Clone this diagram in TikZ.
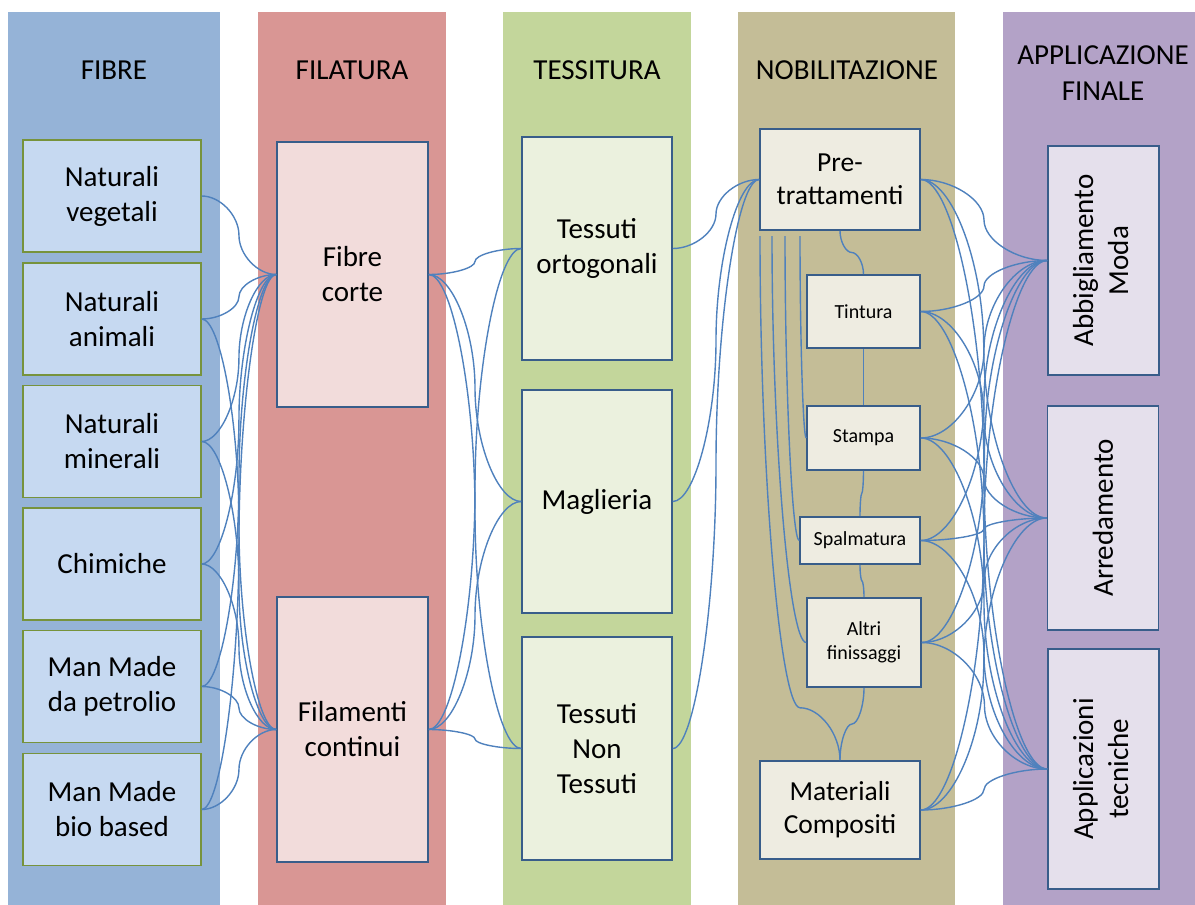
\documentclass[tikz,border=0pt]{standalone}
\usepackage{fontspec}
\usepackage{graphicx}
\setmainfont{Carlito}
\usetikzlibrary{calc}
\definecolor{fibreband}{HTML}{95B3D7}
\definecolor{filband}{HTML}{D99694}
\definecolor{tessband}{HTML}{C3D69B}
\definecolor{nobband}{HTML}{C4BD97}
\definecolor{appband}{HTML}{B3A2C7}
\definecolor{fibrefill}{HTML}{C6D9F1}
\definecolor{fibreline}{HTML}{77933C}
\definecolor{filfill}{HTML}{F2DCDB}
\definecolor{tessfill}{HTML}{EBF1DE}
\definecolor{nobfill}{HTML}{EEECE1}
\definecolor{appfill}{HTML}{E5E0EC}
\definecolor{boxline}{HTML}{385D8A}
\definecolor{linkblue}{HTML}{4F81BD}
\tikzset{head/.style = {align=center, font=\fontsize{29}{36}\selectfont}}
\tikzset{box/.style = {draw=boxline, line width=1.6pt, inner sep=0pt, align=center, font=\fontsize{29}{35}\selectfont}}
\tikzset{fibrebox/.style = {box, draw=fibreline, line width=1.4pt, fill=fibrefill, minimum width=178pt, minimum height=112pt}}
\tikzset{filbox/.style = {box, fill=filfill, minimum width=151pt, minimum height=265pt}}
\tikzset{tessbox/.style = {box, fill=tessfill, minimum width=150pt, minimum height=223pt}}
\tikzset{nobbox/.style = {box, fill=nobfill, font=\fontsize{20}{24}\selectfont}}
\tikzset{appbox/.style = {box, fill=appfill, minimum width=111pt}}
\tikzset{link/.style = {draw=linkblue, line width=1.4pt}}
% curved connector, east side to west side
\newcommand{\hlink}[2]{%
	\draw[link] let \p1=(#1.east), \p2=(#2.west) in (\p1)
		.. controls ({0.75*\x1+0.25*\x2},\y1) and ({0.5*\x1+0.5*\x2},{0.75*\y1+0.25*\y2}) .. ({0.5*\x1+0.5*\x2},{0.5*\y1+0.5*\y2})
		.. controls ({0.5*\x1+0.5*\x2},{0.25*\y1+0.75*\y2}) and ({0.25*\x1+0.75*\x2},\y2) .. (\p2);}
% curved connector, top to bottom, bend at #3
\newcommand{\vlink}[3]{%
	\draw[link] let \p1=(#1), \p2=(#2) in (\p1)
		.. controls (\x1,{(1-0.5*#3)*\y1+0.5*#3*\y2}) and ({0.75*\x1+0.25*\x2},{(1-#3)*\y1+#3*\y2}) .. ({0.5*\x1+0.5*\x2},{(1-#3)*\y1+#3*\y2})
		.. controls ({0.25*\x1+0.75*\x2},{(1-#3)*\y1+#3*\y2}) and (\x2,{0.5*(1-#3)*\y1+0.5*(1+#3)*\y2}) .. (\p2);}
% down, then into a west side
\newcommand{\dlink}[2]{%
	\draw[link] let \p1=(#1), \p2=(#2) in (\p1)
		.. controls (\x1,{0.5*\y1+0.5*\y2}) and ({0.5*\x1+0.5*\x2},\y2) .. (\p2);}

\begin{document}
\begin{tikzpicture}[x=1pt, y=-1pt]
	\useasboundingbox (0,0) rectangle (1195,905);

	\fill[fibreband]	(8,12) rectangle (220,905);
	\fill[filband]	(258,12) rectangle (446,905);
	\fill[tessband]	(503,12) rectangle (691,905);
	\fill[nobband]	(738,12) rectangle (955,905);
	\fill[appband]	(1003,12) rectangle (1195,905);

	\node[head] (hfibre) at (114,70) {FIBRE};
	\node[head] (hfil) at (352,70) {FILATURA};
	\node[head] (htess) at (597,70) {TESSITURA};
	\node[head] (hnob) at (847,70) {NOBILITAZIONE};
	\node[head] (happ) at (1103,73) {APPLICAZIONE\\FINALE};

	\node[fibrebox] (natveg) at (112,196) {Naturali\\vegetali};
	\node[fibrebox] (natani) at (112,319) {Naturali\\animali};
	\node[fibrebox] (natmin) at (112,441.5) {Naturali\\minerali};
	\node[fibrebox] (chim) at (112,564) {Chimiche};
	\node[fibrebox] (petro) at (112,686.5) {Man Made\\da petrolio};
	\node[fibrebox] (bio) at (112,809.5) {Man Made\\bio based};

	\node[filbox] (corte) at (352.5,274.5) {Fibre\\corte};
	\node[filbox] (filam) at (352.5,729.5) {Filamenti\\continui};

	\node[tessbox] (ortog) at (597,248.5) {Tessuti\\ortogonali};
	\node[tessbox] (magl) at (597,501.5) {Maglieria};
	\node[tessbox] (nontess) at (597,748.5) {Tessuti\\Non\\Tessuti};

	\node[nobbox, minimum width=160pt, minimum height=101pt, font=\fontsize{27.5}{33}\selectfont] (pretr) at (840,179.5) {Pre-\\trattamenti};
	\node[nobbox, minimum width=113pt, minimum height=73pt] (tint) at (863.5,311.5) {Tintura};
	\node[nobbox, minimum width=113pt, minimum height=64pt] (stampa) at (863.5,438) {Stampa};
	\node[nobbox, minimum width=120pt, minimum height=47pt] (spalm) at (860,540.5) {Spalmatura};
	\node[nobbox, minimum width=114pt, minimum height=89pt] (altri) at (864,642.5) {Altri\\finissaggi};
	\node[nobbox, minimum width=160pt, minimum height=98pt, font=\fontsize{27.5}{33}\selectfont] (matcomp) at (840,810) {Materiali\\Compositi};

	\node[appbox, minimum height=229pt] (abbigl) at (1103.5,260.5) {\rotatebox{90}{\begin{tabular}{@{}c@{}}Abbigliamento\\Moda\end{tabular}}};
	\node[appbox, minimum height=224pt] (arred) at (1103,518) {\rotatebox{90}{Arredamento}};
	\node[appbox, minimum height=240pt] (appltec) at (1103.5,769) {\rotatebox{90}{\begin{tabular}{@{}c@{}}Applicazioni\\tecniche\end{tabular}}};

	\foreach \a in {natveg,natani,natmin,chim,petro,bio} {\hlink{\a}{corte}}
	\foreach \a in {natani,natmin,chim,petro,bio} {\hlink{\a}{filam}}
	\foreach \a in {corte,filam} {\foreach \b in {ortog,magl,nontess} {\hlink{\a}{\b}}}
	\foreach \a in {ortog,magl,nontess} {\hlink{\a}{pretr}}
	\foreach \a in {pretr,tint,stampa,spalm,altri,matcomp} {\foreach \b in {abbigl,arred,appltec} {\hlink{\a}{\b}}}

	\vlink{pretr.south}{tint.north}{0.5}
	\vlink{tint.south}{stampa.north}{0.5}
	\vlink{stampa.south}{spalm.north}{0.5}
	\vlink{spalm.south}{altri.north}{0.5}
	\vlink{altri.south}{matcomp.north}{0.5}

	\coordinate (pre1) at (760,236);
	\coordinate (pre2) at (772,236);
	\coordinate (pre3) at (785,236);
	\coordinate (pre4) at (800,236);
	\vlink{pre1}{matcomp.north}{0.9}
	\dlink{pre2}{altri.west}
	\dlink{pre3}{spalm.west}
	\dlink{pre4}{stampa.west}
\end{tikzpicture}
\end{document}
